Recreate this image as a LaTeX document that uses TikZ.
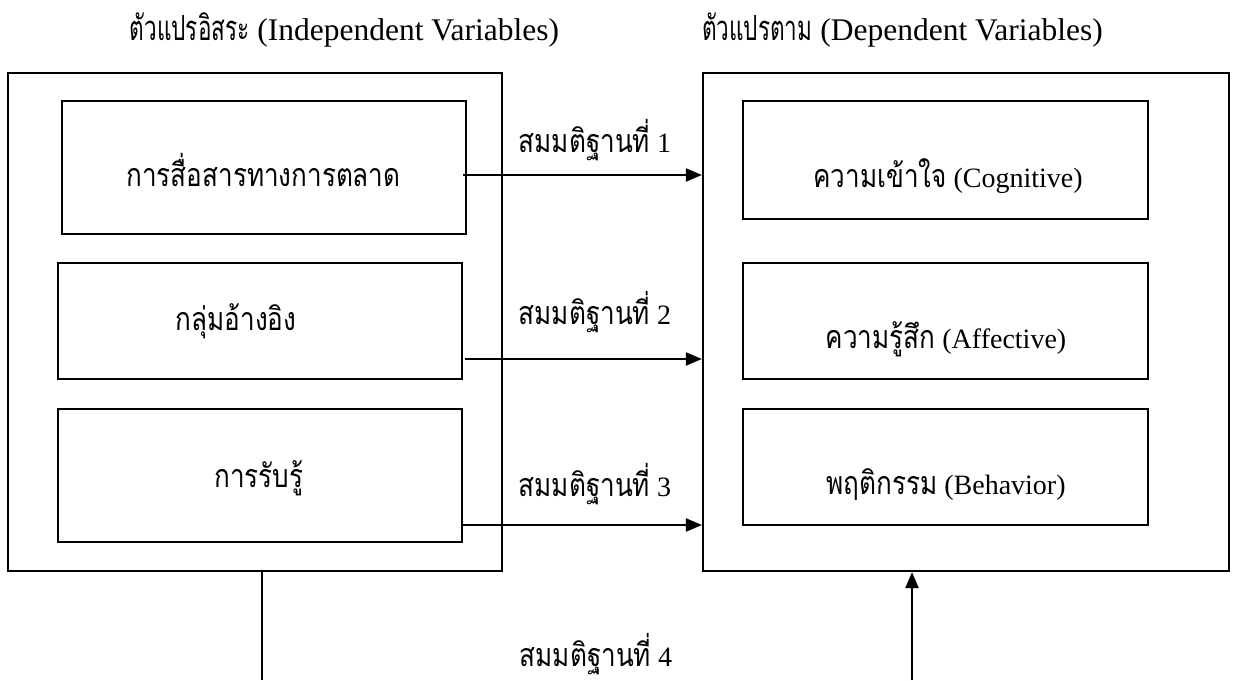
\documentclass[tikz,border=0pt]{standalone}
\usepackage{fontspec}
\setmainfont{Liberation Serif}
\newfontfamily\thai[Script=Thai,Scale=1.15,FakeStretch=0.81]{Loma}
\newfontfamily\thaiT[Script=Thai,Scale=1.1,FakeStretch=0.65]{Loma}
\usetikzlibrary{arrows.meta}
\tikzset{
  every picture/.style={x=1pt,y=-1pt},
  bx/.style={draw,line width=2.2pt,inner sep=0pt},
  txt/.style={inner sep=0pt,anchor=base,font=\fontsize{28}{32}\selectfont},
  ttl/.style={inner sep=0pt,anchor=base,font=\fontsize{31.5}{36}\selectfont},
  arr/.style={line width=2.2pt,-{Triangle[length=16pt,width=13pt]}},
  ln/.style={line width=2.2pt}
}
\begin{document}
\begin{tikzpicture}
\useasboundingbox[fill=white] (0,0) rectangle (1238,680);
% outer frames
\node[bx,minimum width=494pt,minimum height=498pt] (LOut) at (255,322) {};
\node[bx,minimum width=526pt,minimum height=498pt] (ROut) at (966,322) {};
% left boxes
\node[bx,minimum width=404pt,minimum height=133pt] (L1) at (264,167.5) {};
\node[txt] (L1t) at (263.5,186) {\thai การสื่อสารทางการตลาด};
\node[bx,minimum width=404pt,minimum height=116pt] (L2) at (260,321) {};
\node[txt] (L2t) at (236,330) {\thai กลุ่มอ้างอิง};
\node[bx,minimum width=404pt,minimum height=133pt] (L3) at (260,475.5) {};
\node[txt] (L3t) at (259,487) {\thai การรับรู้};
% right boxes
\node[bx,minimum width=405pt,minimum height=118pt] (R1) at (945.5,160) {};
\node[txt] (R1t) at (948,187) {{\thai ความเข้าใจ} (Cognitive)};
\node[bx,minimum width=405pt,minimum height=116pt] (R2) at (945.5,321) {};
\node[txt] (R2t) at (946,348) {{\thai ความรู้สึก} (Affective)};
\node[bx,minimum width=405pt,minimum height=116pt] (R3) at (945.5,467) {};
\node[txt] (R3t) at (946,494) {{\thai พฤติกรรม} (Behavior)};
% titles
\node[ttl] (T1) at (344.5,40) {{\thaiT ตัวแปรอิสระ} (Independent Variables)};
\node[ttl] (T2) at (902.5,40) {{\thaiT ตัวแปรตาม} (Dependent Variables)};
% hypothesis labels
\node[txt] (H1) at (595,152) {{\thai สมมติฐานที่} 1};
\node[txt] (H2) at (595,324) {{\thai สมมติฐานที่} 2};
\node[txt] (H3) at (595,496) {{\thai สมมติฐานที่} 3};
\node[txt] (H4) at (596,666) {{\thai สมมติฐานที่} 4};
% arrows
\coordinate (a1) at (463,175);
\coordinate (a2) at (465,359);
\coordinate (a3) at (461,525);
\draw[arr] (a1) -- (a1 -| ROut.west);
\draw[arr] (a2) -- (a2 -| ROut.west);
\draw[arr] (a3) -- (a3 -| ROut.west);
\coordinate (b1) at (262,680);
\coordinate (b2) at (912,680);
\draw[ln] (LOut.south -| b1) -- (b1);
\draw[arr] (b2) -- (b2 |- ROut.south);
\end{tikzpicture}
\end{document}
